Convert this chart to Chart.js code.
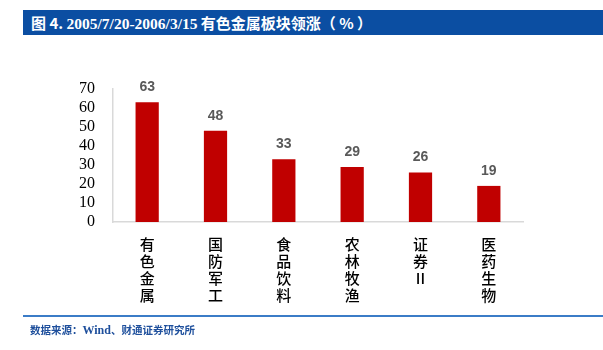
<!DOCTYPE html>
<html>
<head>
<meta charset="utf-8">
<script src="https://cdn.jsdelivr.net/npm/chart.js@4"></script>
<style>
    body { margin: 0; width: 603px; height: 350px; background: #fff; position: relative; overflow: hidden; }
    #titleBar {
        position: absolute; left: 23px; top: 10px; width: 580px; height: 25px;
        background: #0b4ea2; color: #fff; font-weight: bold; font-size: 15px;
        line-height: 25px; padding-left: 8px; box-sizing: border-box;
        font-family: "Noto Sans CJK SC", sans-serif; white-space: nowrap;
    }
    #titleBar .num { font-family: "Liberation Serif", serif; font-size: 15.5px; }
    #chartWrap { position: absolute; left: 0; top: 0; width: 603px; height: 350px; }
    #footLine { position: absolute; left: 23px; top: 315px; width: 580px; height: 2px; background: #3b7cc7; }
    #source {
        position: absolute; left: 30px; top: 322px; font-size: 10.5px; font-weight: bold;
        color: #1e4f9c; font-family: "Noto Sans CJK SC", sans-serif; white-space: nowrap;
    }
    #source .num { font-family: "Liberation Serif", serif; font-size: 12px; }
</style>
</head>
<body>
<div id="chartWrap"><canvas id="sectorChart" width="603" height="350"></canvas></div>
<div id="titleBar">图 4. <span class="num">2005/7/20-2006/3/15</span> 有色金属板块领涨（ % ）</div>
<div id="footLine"></div>
<div id="source">数据来源：<span class="num">Wind</span>、财通证券研究所</div>

<script>
// categories and values
const categories = ['有色金属', '国防军工', '食品饮料', '农林牧渔', '证券II', '医药生物'];
const gains = [63, 48, 33, 29, 26, 19];
const yTicks = [0, 10, 20, 30, 40, 50, 60, 70];

// vertical labels: one char per line ("II" stays together)
const verticalLabels = categories.map(function (c) {
    return c.match(/II|./g);
});

// draw value above each bar
const barValueLabels = {
    id: 'barValueLabels',
    afterDatasetsDraw: function (chart) {
        const ctx = chart.ctx;
        const meta = chart.getDatasetMeta(0);
        ctx.save();
        ctx.font = 'bold 14px "Liberation Sans", sans-serif';
        ctx.fillStyle = '#595959';
        ctx.textAlign = 'center';
        ctx.textBaseline = 'middle';
        meta.data.forEach(function (bar, i) {
            ctx.fillText(String(gains[i]), bar.x, bar.y - 15);
        });
        ctx.restore();
    }
};

new Chart(document.getElementById('sectorChart'), {
    type: 'bar',
    data: {
        labels: verticalLabels,
        datasets: [{
            data: gains,
            backgroundColor: '#c00000',
            barPercentage: 0.34,
            categoryPercentage: 1
        }]
    },
    options: {
        responsive: false,
        animation: false,
        layout: { padding: { left: 0, top: 89, right: 80, bottom: 38 } },
        plugins: {
            legend: { display: false },
            tooltip: { enabled: false }
        },
        scales: {
            x: {
                grid: { display: false },
                border: { color: '#d9d9d9', width: 1.5 },
                ticks: {
                    padding: 6,
                    color: '#000',
                    maxRotation: 0,
                    autoSkip: false,
                    font: { family: '"Noto Sans CJK SC", serif', size: 15, weight: '500', lineHeight: 1.12 }
                },
                afterFit: function (scale) { scale.height = 90; }
            },
            y: {
                min: 0,
                max: 70,
                grid: { display: false },
                border: { color: '#d9d9d9', width: 1.5 },
                afterBuildTicks: function (scale) {
                    scale.ticks = yTicks.map(function (v) { return { value: v }; });
                },
                ticks: {
                    padding: 10,
                    color: '#000',
                    autoSkip: false,
                    font: { family: '"Liberation Serif", serif', size: 16 }
                },
                afterFit: function (scale) { scale.width = 113; }
            }
        }
    },
    plugins: [barValueLabels]
});
</script>
</body>
</html>
